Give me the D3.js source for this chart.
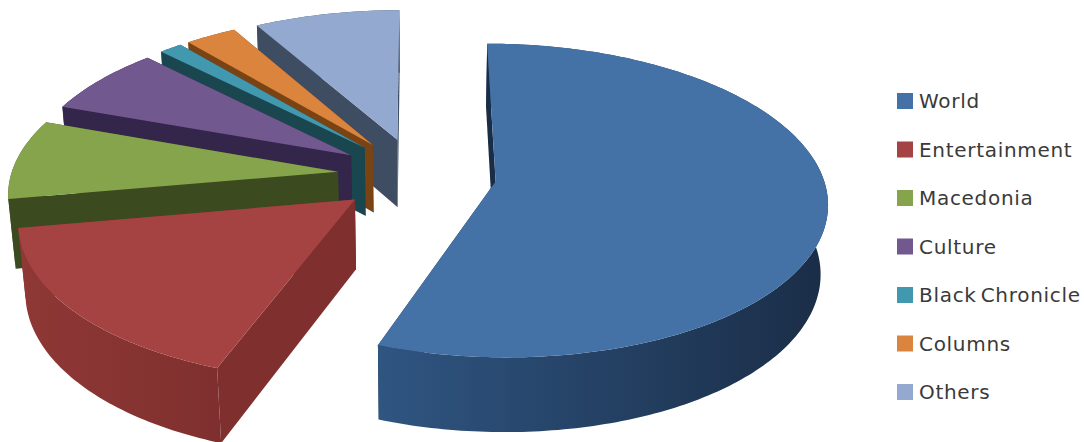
<!DOCTYPE html>
<html>
<head>
<meta charset="utf-8">
<script src="https://cdn.jsdelivr.net/npm/d3@7"></script>
<style>
html,body{margin:0;padding:0;background:#fff}
svg{display:block}
text{font-family:"DejaVu Sans",sans-serif;font-size:20px;letter-spacing:.7px;word-spacing:-3px;fill:#3a3a3a}
</style>
</head>
<body>
<svg id="chart" width="1084" height="442"></svg>
<script>
// Share of articles per section
const categories = ["World","Entertainment","Macedonia","Culture","Black Chronicle","Columns","Others"];
const shares     = [55.6, 16.6, 8.3, 7.1, 1.3, 2.9, 8.2];
const topColors  = ["#4472a6","#a54342","#86a44b","#71588f","#4198af","#db843d","#93a9cf"];
const sideColors = ["#1a2d47","#7f302e","#3c4a20","#33264a","#1a4650","#7a4313","#3f4d63"];
const rimLight   = ["#2f5581","#8f3836","#46572a","#3e2e58","#1f5361","#8a4c16","#4a5a74"];

// Camera model of the tilted, exploded pie
const cam = {x0:417, y0:175, rx:327, ry:153, depth:70, persp:0.12, shrink:0.018, explodeX:0.243, explodeY:0.245};

function project(u, v, z) {
  const s = 1 / (1 + cam.persp * v + cam.shrink * z);
  return [cam.x0 + cam.rx * u * s, cam.y0 - cam.ry * v * s + cam.depth * z * s];
}

const svg = d3.select("#chart");
const defs = svg.append("defs");
const arcs = d3.pie().sort(null).startAngle(0).endAngle(2 * Math.PI)(shares);
const line = d3.line();

const rimPoints = (d, o, z) => {
  const n = Math.max(8, Math.ceil((d.endAngle - d.startAngle) * 60));
  return d3.range(n + 1).map(i => {
    const t = d.startAngle + (d.endAngle - d.startAngle) * i / n;
    return project(o[0] + Math.sin(t), o[1] + Math.cos(t), z);
  });
};

// Back slices first so that the nearer ones paint over them
const order = d3.range(arcs.length).reverse();
order.forEach(i => {
  const d = arcs[i];
  const mid = (d.startAngle + d.endAngle) / 2;
  const o = [cam.explodeX * Math.sin(mid), cam.explodeY * Math.cos(mid)];
  const g = svg.append("g");

  const topRim = rimPoints(d, o, 0);
  const lowRim = rimPoints(d, o, 1);
  const apexTop = project(o[0], o[1], 0);
  const apexLow = project(o[0], o[1], 1);
  const last = topRim.length - 1;
  const radialWall = (a, b) => g.append("path")
    .attr("d", line([apexTop, a, b, apexLow]) + "Z")
    .attr("fill", sideColors[i]);

  // closing wall sits behind the curved wall
  radialWall(topRim[last], lowRim[last]);

  // curved outer wall, shaded from left to right
  const xs = d3.extent(topRim, p => p[0]);
  const grad = defs.append("linearGradient")
    .attr("id", "rim" + i)
    .attr("gradientUnits", "userSpaceOnUse")
    .attr("x1", xs[0]).attr("x2", xs[1]).attr("y1", 0).attr("y2", 0);
  grad.append("stop").attr("offset", 0).attr("stop-color", rimLight[i]);
  grad.append("stop").attr("offset", 1).attr("stop-color", sideColors[i]);
  g.append("path")
    .attr("d", line(topRim.concat(lowRim.slice().reverse())) + "Z")
    .attr("fill", `url(#rim${i})`);

  // opening wall faces the viewer
  radialWall(topRim[0], lowRim[0]);

  // top face
  g.append("path")
    .attr("d", line([apexTop].concat(topRim)) + "Z")
    .attr("fill", topColors[i]);
});

// Legend
const rowY = d3.scalePoint().domain(categories).range([101, 392]);
const legend = svg.append("g").selectAll("g").data(categories).join("g")
  .attr("transform", c => `translate(897,${rowY(c)})`);
legend.append("rect")
  .attr("x", 0).attr("y", -8).attr("width", 16).attr("height", 16)
  .attr("fill", (c, i) => topColors[i]);
legend.append("text")
  .attr("x", 22).attr("y", 7)
  .text(c => c);
</script>
</body>
</html>
